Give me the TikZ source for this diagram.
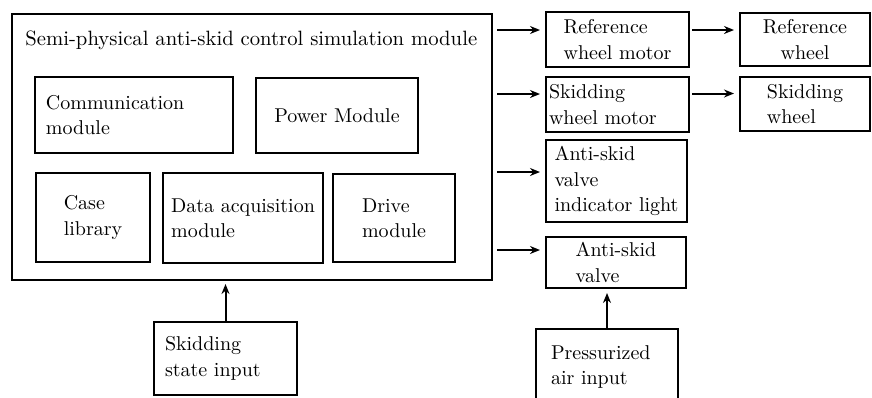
\documentclass[tikz,border=0pt]{standalone}
\usepackage{tikz}
\usetikzlibrary{positioning,arrows.meta}
\tikzset{
  blk/.style={draw,line width=1pt,inner sep=0pt,align=left,font=\fontsize{10pt}{12.7pt}\selectfont},
  arr/.style={line width=1pt,-{Stealth[length=5pt,width=4pt]}},
}
\begin{document}
\begin{tikzpicture}[x=0.5pt,y=-0.5pt]
  \useasboundingbox (0,0) rectangle (872,397);

  \node[blk,minimum width=240pt,minimum height=133pt] (sim) at (252,147) {};
  \node[font=\fontsize{10.35pt}{13pt}\selectfont,anchor=base west,inner sep=0pt] (simtitle) at (25,45) {Semi-physical anti-skid control simulation module};

  \node[blk,minimum height=38pt,inner xsep=5.5pt,text width=88pt] (comm) at (134,115) {Communication\\module};
  \node[blk,minimum width=81pt,minimum height=37.5pt,align=center] (power) at (337,115.5) {Power Module};
  \node[blk,minimum width=57pt,minimum height=44.5pt] (case) at (93,217.5) {Case\\library};
  \node[blk,minimum width=80pt,minimum height=45pt] (daq) at (243,218) {Data acquisition\\module};
  \node[blk,minimum width=61pt,minimum height=44pt] (drive) at (394,218) {Drive\\module};

  \node[blk,minimum width=71.5pt,minimum height=27.5pt] (rwm) at (617.5,39.5) {Reference\\wheel motor};
  \node[blk,minimum width=65pt,minimum height=26.5pt,align=center] (rw) at (805,39.5) {Reference\\wheel};
  \node[blk,minimum height=27.5pt,inner xsep=1.5pt,text width=68.5pt] (swm) at (617.5,104.5) {Skidding\\wheel motor};
  \node[blk,minimum width=65pt,minimum height=27pt] (sw) at (805,104) {Skidding\\wheel};
  \node[blk,minimum width=70.5pt,minimum height=41pt] (asvil) at (616.5,181) {Anti-skid\\valve\\indicator light};
  \node[blk,minimum width=70pt,minimum height=25.5pt] (asv) at (616,262.5) {Anti-skid\\valve};

  \node[blk,minimum height=36.5pt,inner xsep=5.5pt,text width=60.5pt] (skidin) at (225.5,358.5) {Skidding\\state input};
  \node[blk,minimum height=38pt,inner xsep=7.5pt,text width=56pt] (air) at (607,367) {Pressurized\\air input};

  \foreach \t/\d in {rwm/4.75pt,swm/5.25pt,asvil/4.5pt,asv/6.25pt} {
    \draw[arr,shorten <=2pt,shorten >=2.5pt] ([yshift=\d]\t.west -| sim.east) -- ([yshift=\d]\t.west);
  }
  \draw[arr,shorten <=1.2pt,shorten >=2.5pt] ([yshift=4.75pt]rwm.east) -- ([yshift=4.75pt]rw.west);
  \draw[arr,shorten <=1.2pt,shorten >=2.5pt] ([yshift=5.5pt]swm.east) -- ([yshift=5.5pt]swm.east -| sw.west);

  \draw[arr,shorten >=1.5pt] (skidin.north) -- (skidin.north |- sim.south);
  \draw[arr,shorten >=2pt] (air.north) -- (air.north |- asv.south);
\end{tikzpicture}
\end{document}
